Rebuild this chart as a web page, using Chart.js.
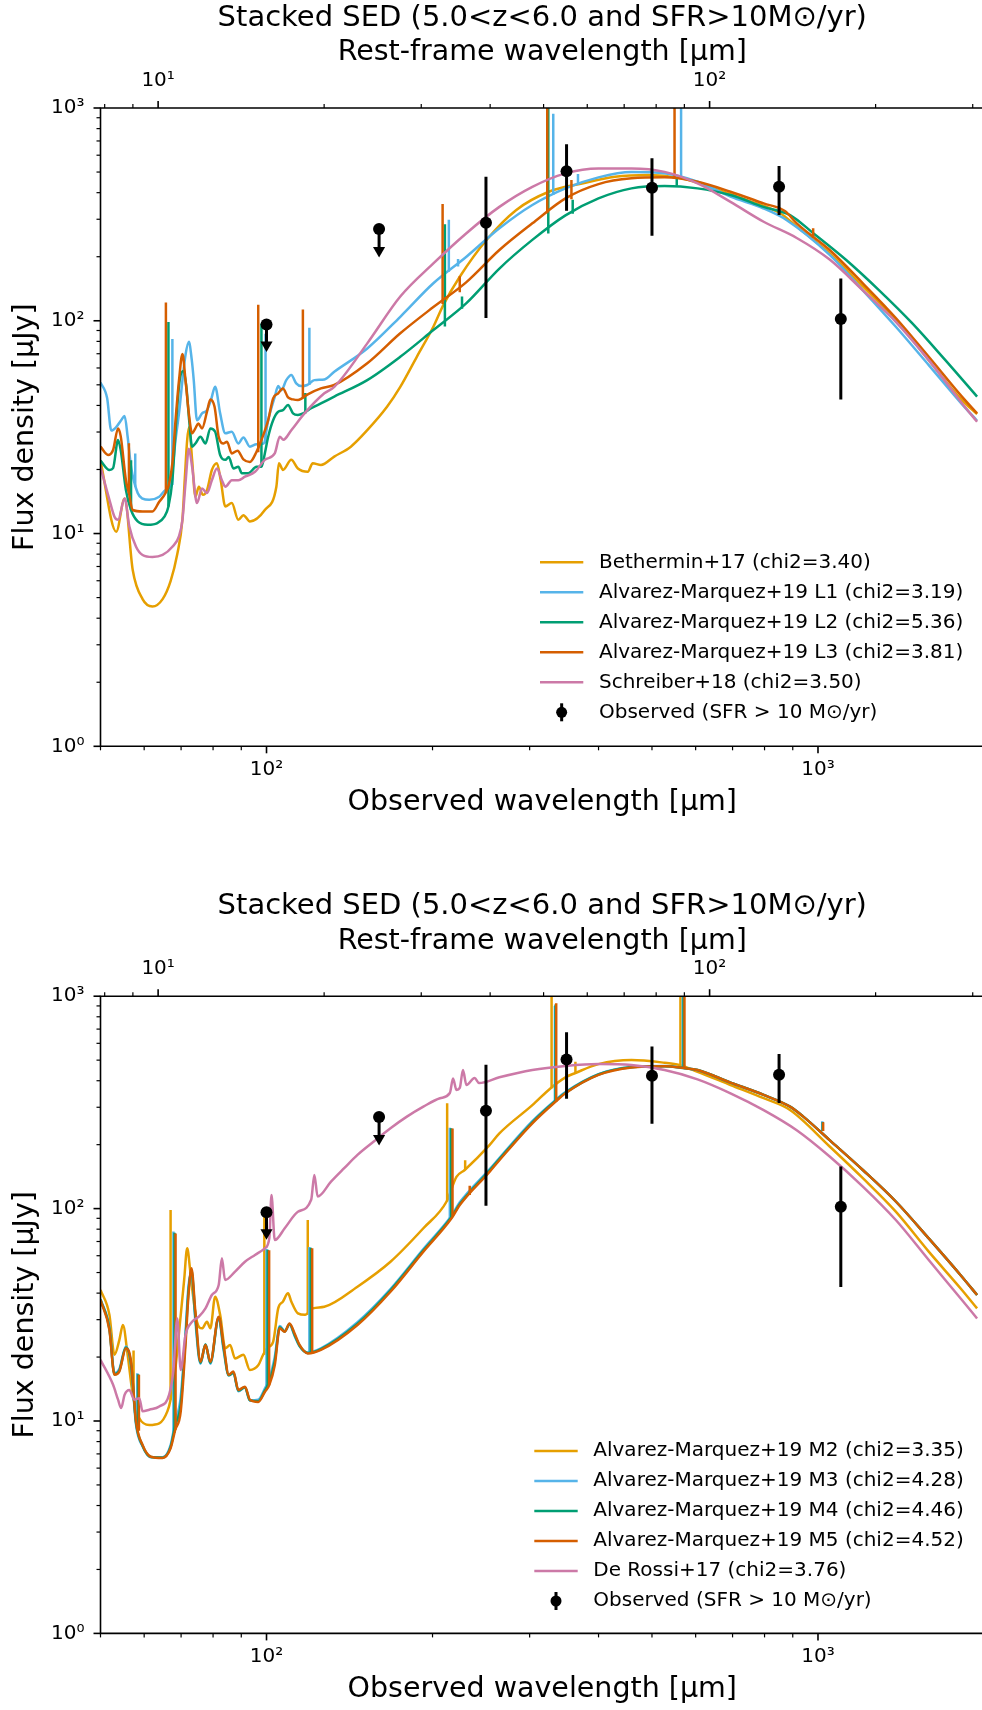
<!DOCTYPE html>
<html>
<head>
<meta charset="utf-8">
<script src="https://cdn.jsdelivr.net/npm/chart.js@4.4.0/dist/chart.umd.min.js"></script>
<style>
  html, body { margin: 0; padding: 0; background: #fff; overflow: hidden; }
  canvas { display: block; }
</style>
</head>
<body>
<canvas id="sedTop" width="991" height="855"></canvas>
<canvas id="sedBottom" width="991" height="855"></canvas>
<script>
// observed stack (micron, micro-Jy)
const obsWave = [250, 350, 500, 850, 1100];
const obsFlux = [289, 504, 422, 427, 102];
const obsLo = [103, 329, 251, 314, 42.7];
const obsHi = [475, 676, 580, 534, 158];
const ulWave = [100, 160];
const ulFlux = [96, 270];
const ulArrow = [77, 214];

// axes run a little past the right edge of the picture
const xMin = 50, xMax = 2000;
const onePlusZ = 6.36;

const modelColors = ["#E69F00", "#56B4E9", "#009E73", "#D55E00", "#CC79A7"];
const topLabels = [
  "Bethermin+17 (chi2=3.40)",
  "Alvarez-Marquez+19 L1 (chi2=3.19)",
  "Alvarez-Marquez+19 L2 (chi2=5.36)",
  "Alvarez-Marquez+19 L3 (chi2=3.81)",
  "Schreiber+18 (chi2=3.50)",
];
const bottomLabels = [
  "Alvarez-Marquez+19 M2 (chi2=3.35)",
  "Alvarez-Marquez+19 M3 (chi2=4.28)",
  "Alvarez-Marquez+19 M4 (chi2=4.46)",
  "Alvarez-Marquez+19 M5 (chi2=4.52)",
  "De Rossi+17 (chi2=3.76)",
];
const obsLabel = "Observed (SFR > 10 M\u2299/yr)";
const titleText = "Stacked SED (5.0<z<6.0 and SFR>10M\u2299/yr)";

// ---- top panel templates ----
const wlBet = [50.0,53.4,55.3,57.2,59.6,62.1,64.8,67.0,68.9,70.4,71.1,71.8,72.4,73.3,74.3,75.4,76.7,78.0,79.6,81.3,82.6,84.2,86.5,88.9,90.8,93.3,99.3,104.2,105.3,107.1,110.9,114.0,118.8,121.3,125.5,132.7,142.2,152.3,165.4,174.8,187.3,200.7,209.2,224.1,250.3,283.4,325.1,373.3,428.5,491.8,564.6,648.1,743.9,854,915,1050,1206,1384,1588,1824,1943];
const fluxBet = [22.0,10.2,14.6,6.74,4.92,4.54,4.92,5.98,8.01,11.7,18.2,27.5,31.7,22.2,14.9,16.6,15.2,16.0,19.9,21.4,17.8,13.4,13.9,11.6,12.2,11.4,12.9,16.6,21.4,19.9,22.2,20.2,19.5,21.4,21.0,23.0,25.6,30.6,39.4,48.9,67.7,93.7,118.5,161,239,331,404,442,475,484,467,419,369,320,277,207,145,101,65.3,42.4,36.4];

const wlL1 = [50.0,51.4,52.3,53.3,54.5,55.3,56.0,56.8,58.4,59.6,61.3,63.9,65.6,66.9,68.4,69.5,70.4,71.3,72.3,73.2,73.8,74.8,76.4,78.0,79.3,80.7,82.4,84.2,86.5,88.9,90.8,93.3,95.9,98.8,100.7,103.5,105.0,106.4,108.6,110.9,113.2,115.6,118.5,122.1,127.3,132.7,152.3,174.8,200.7,230.4,264.4,303.4,348.4,399.9,459,527,604.8,694,797,877.9,1050,1206,1384,1588,1824,1943];
const fluxL1 = [51.3,43.3,30.5,31.5,34.1,35.7,28.5,20.6,15.5,14.6,14.4,14.9,16.0,16.7,27.5,38.0,52.6,69.0,79.7,65.3,52.6,34.1,36.7,38.0,42.4,48.9,36.7,29.6,30.1,26.5,28.3,25.6,26.3,26.5,34.1,43.9,49.3,47.2,52.6,55.6,50.8,49.3,49.9,52.6,53.0,57.6,74.1,104.4,150,200,272,350,419,472,500,493,450,383,337,297,204,139,93.7,61.9,40.6,33.9];
const linesL1 = [[57.8,16.6,23.8],[67.5,16.9,82],[99.6,26.5,87],[119.6,49.9,92.7],[214.1,170,298],[222.5,180,195],[331.1,390,940],[367.1,435,490],[564.6,467,1000]];

const wlL2 = [50.0,51.9,52.7,53.8,54.4,55.6,56.8,58.4,60.9,63.4,65.3,66.4,67.5,68.6,69.6,70.6,71.5,72.4,73.3,74.3,75.9,77.5,79.1,80.7,82.4,84.2,85.4,87.1,88.9,90.2,92.7,95.9,97.9,99.3,100.7,102.8,105.0,107.1,109.4,111.7,114.0,116.5,120.5,125.5,132.7,152.3,174.8,200.7,230.4,264.4,303.4,348.4,399.9,459,527,604.8,694,797,889.9,980.4,1125,1291,1483,1702,1943];
const fluxL2 = [22.0,19.9,20.3,27.5,24.7,16.0,12.9,11.4,11.0,11.2,12.0,13.4,17.8,34.1,52.6,58.0,49.9,34.1,25.6,26.5,28.5,26.5,31.2,30.1,23.4,22.2,22.9,20.2,20.6,19.2,19.2,20.6,20.6,23.8,28.5,34.1,37.4,38.0,40.2,36.7,36.1,36.7,38.8,40.9,44.0,52.6,67.7,90.4,121,176,240,313,376,419,430,419,390,343,314,258,193,139,97.2,65.3,44.0];
const linesL2 = [[56.8,12.9,22.1],[66.4,13.4,98.6],[97.9,20.6,97],[117.6,36.7,45.8],[210.6,94,284],[226.2,114,130],[324.3,257,1000],[359.1,318,370],[554.5,431,470]];

const wlL3 = [50.0,51.6,52.7,53.8,54.4,55.6,56.3,57.2,59.6,62.1,63.9,65.6,66.6,67.5,68.4,69.4,70.4,71.3,72.3,73.3,74.3,75.2,76.4,78.0,79.1,80.5,81.9,83.6,84.8,86.5,88.6,90.8,93.3,95.9,97.9,100.7,102.8,105.0,107.1,109.4,111.7,114.0,115.9,118.8,125.5,132.7,152.3,174.8,200.7,230.4,264.4,303.4,348.4,399.9,459,527,604.8,694,797,870.9,915,1050,1206,1384,1588,1824,1943];
const fluxL3 = [25.6,23.4,24.7,31.2,28.7,17.8,15.5,12.9,12.7,12.7,14.1,15.5,17.2,21.4,34.1,52.6,69.8,52.6,36.7,29.6,31.2,32.9,31.2,37.4,42.7,39.4,28.5,26.5,27.0,23.8,24.5,22.3,21.7,24.2,27.5,34.1,43.2,45.6,48.1,43.6,42.7,42.4,43.2,45.1,48.1,49.9,63.1,87.3,116,152,215,287,376,439,467,472,450,404,356,328,287,215,150,103,67.7,44.0,36.7];
const linesL3 = [[56.3,15.5,26.6],[65.7,15.5,122],[96.6,24.1,119],[116.4,43.1,113],[208.6,120,354],[224.1,136,162],[322.9,320,1000],[357.2,372,459],[549.4,470,1000],[980,245,272]];

const wlS18 = [50.0,51.9,53.0,53.8,55.3,56.4,58.0,59.6,62.1,64.8,67.5,69.4,70.4,71.3,72.3,73.3,74.8,76.4,78.0,79.6,81.3,83.0,84.2,86.5,88.9,91.4,95.3,99.3,103.5,105.7,107.3,110.9,117.2,127.3,132.7,152.3,174.8,200.7,230.4,264.4,303.4,348.4,399.9,459,527,604.8,694,797,915,1050,1206,1384,1588,1824,1943];
const fluxS18 = [20.5,14.4,12.0,11.6,14.6,10.8,8.67,7.93,7.76,7.93,8.67,9.73,11.6,17.2,25.0,20.6,13.9,16.3,15.5,17.8,20.2,17.8,16.6,17.8,17.8,18.5,19.5,22.2,23.8,28.5,27.6,30.6,36.7,45.6,48.9,78.3,130,186,258,343,426,493,520,520,501,442,362,292,245,194,139,98.9,65.3,41.0,33.5];

// ---- bottom panel templates ----
const wlM2 = [50.0,51.9,53.0,54.1,54.9,56.0,57.2,58.0,58.8,61.3,63.9,66.1,67.0,68.3,69.9,70.9,71.8,72.7,73.3,74.8,76.4,78.0,79.1,80.7,82.4,84.2,85.9,87.7,90.8,93.3,96.6,98.6,100.4,102.8,105.0,107.1,109.4,110.9,114.0,117.5,121.3,127.3,146.2,167.8,192.5,212.1,221.0,228.8,253.7,264.4,303.4,327.5,348.4,363.2,399.9,459,527,560.7,604.8,694,797,889.9,1050,1206,1384,1588,1824,1943];
const fluxM2 = [41.4,31.6,20.5,24.1,28.3,20.5,13.3,11.5,10.3,9.58,9.75,11.1,12.6,17.4,31.6,46.1,65.0,51.4,42.2,29.3,27.3,29.3,27.3,38.5,31.6,22.0,22.8,19.7,20.5,17.4,18.3,20.5,22.1,23.6,33.9,36.5,39.9,36.5,32.1,31.6,33.9,34.5,42.9,56.2,80.8,108,141,152,199,226,307,369,415,435,479,501,486,474,441,382,331,291,196,139,96.7,62.7,41.4,33.9];
const linesM2 = [[57.4,13.0,21.5],[67.0,12.6,98.5],[99.1,20.5,93.3],[118.8,31.6,88.4],[212.6,108,313],[229.2,152,169],[328.8,369,1000],[363.2,433,491],[563.1,474,1000]];

const wlM345 = [50.0,51.9,53.0,54.1,55.6,56.8,58.0,59.6,61.7,64.8,67.0,68.3,69.9,71.3,72.2,73.1,74.3,75.9,77.5,79.1,81.9,83.6,85.4,87.1,88.9,91.4,93.3,96.6,99.3,101.2,103.5,105.7,107.9,110.1,112.4,114.8,118.8,125.5,146.2,167.8,192.5,216.5,224.1,253.7,264.4,303.4,334.4,348.4,399.9,459,527,570.9,604.8,694,797,889.9,940.6,1050,1206,1384,1588,1824,1943];
const fluxM3 = [37.5,27.5,16.8,17.6,22.4,18.2,9.6,7.6,6.75,6.75,7.7,9.9,13.0,26.0,43.0,50.0,29.5,18.6,23.0,18.6,30.5,21.5,16.4,16.8,13.8,14.4,12.5,12.6,14.2,15.8,20.0,28.0,26.5,28.5,25.2,22.5,21.0,22.0,29.2,41.8,64.5,92.5,107,153,173,258,325,354,430,464,469,459,449,392,343,302,271,210,152,108,72.4,47.8,39.2];
const fluxM4 = [37.3,27.1,16.6,17.3,22.2,18.6,9.8,7.65,6.77,6.72,7.55,9.5,12.0,24.4,41.0,51.2,31.0,18.8,22.9,18.8,30.8,22.1,16.4,16.9,13.9,14.4,12.5,12.4,13.9,15.3,19.1,27.6,26.4,28.6,25.5,22.6,20.9,21.8,28.7,41.2,63.6,91.2,105,151,171,255,322,351,428,463,468,459,449,392,343,302,271,210,152,108,72.4,47.8,39.2];
const fluxM5 = [37.1,26.8,16.5,17.1,22.0,19.0,9.93,7.71,6.79,6.70,7.44,9.07,11.1,22.8,39.2,52.4,32.7,19.0,22.8,19.0,31.0,22.8,16.5,17.1,14.0,14.5,12.6,12.3,13.7,14.8,18.3,27.3,26.3,28.8,25.9,22.8,20.8,21.6,28.3,40.6,62.7,90.0,104,149,169,252,319,349,426,462,468,459,449,392,343,302,271,210,152,108,72.4,47.8,39.2];
const linesM3 = [[58.3,9.6,16.8],[67.8,8.6,78],[100.0,14.3,64.5],[119.6,21.0,66],[215.0,89,240],[333.4,316,900],[568.5,460,1000],[1018,232,258]];
const linesM4 = [[58.5,9.3,16.6],[68.1,8.8,77],[100.5,14.5,64],[120.3,21.0,65.5],[216.2,90,239],[334.3,318,915],[570.5,460,1000],[1020,232,256]];
const linesM5 = [[58.7,9.0,16.5],[68.4,9.1,76.3],[101.1,14.8,63.6],[121.0,21.0,65],[217.4,92,238],[233.6,116,128],[335.2,319,927],[572.6,459,1000],[1021.7,232,255]];

const wlDR17 = [50.0,52.7,53.8,54.5,55.3,56.4,57.6,58.8,59.6,61.3,63.9,66.6,67.8,68.9,69.9,71.3,73.3,75.4,77.5,79.6,81.9,83.0,84.1,87.7,91.4,95.3,99.3,101.2,102.1,103.5,107.9,114.0,120.5,122.1,123.8,130.9,138.3,146.2,156.5,167.8,179.7,192.5,206.3,215.0,217.9,221.0,224.1,227.1,230.4,238.4,243,264.4,303.4,348.4,399.9,459,527,604.8,694,797,915,1050,1206,1384,1588,1824,1943];
const fluxDR17 = [19.4,14.8,12.6,11.5,13.3,14.0,12.6,12.8,11.1,11.3,11.7,13.3,17.4,30.4,17.4,25.4,29.3,31.0,33.9,39.2,43.7,58.3,46.1,50.5,56.2,60.5,65.0,72.7,116,71.1,80.8,96.6,110,144,114,134,155,179,207,239,271,302,331,350,410,362,370,449,382,412,390,415,449,469,479,474,449,406,349,291,234,176,127,88.4,57.3,37.1,30.4];

const FONT = "DejaVu Sans";
Chart.defaults.font.family = FONT;
Chart.defaults.color = "#000";

const supDigits = ["\u2070", "\u00B9", "\u00B2", "\u00B3", "\u2074"];
const decadeLabel = (v) => "10" + supDigits[Math.round(Math.log10(v))];

const toPoints = (wl, flux) => wl.map((w, i) => ({ x: w, y: flux[i] }));
const toSpikes = (lines) =>
  lines.flatMap(([w, lo, hi]) => [{ x: w, y: lo }, { x: w, y: hi }, { x: w, y: null }]);

// minor + major positions of a log axis
const logSteps = (min, max) => {
  const out = [];
  for (let e = Math.floor(Math.log10(min)); e <= Math.ceil(Math.log10(max)); e++) {
    for (let m = 1; m < 10; m++) {
      const v = m * Math.pow(10, e);
      if (v >= min * 0.999 && v <= max * 1.001) out.push({ v, major: m === 1 });
    }
  }
  return out;
};

const axesPlugin = {
  id: "sedAxes",
  afterDraw(chart) {
    const { ctx, chartArea: a } = chart;
    const { x, x2, y } = chart.scales;
    ctx.save();
    ctx.strokeStyle = "#000";
    const tick = (x0, y0, x1, y1, major) => {
      ctx.lineWidth = major ? 1.6 : 1.2;
      ctx.beginPath();
      ctx.moveTo(x0, y0);
      ctx.lineTo(x1, y1);
      ctx.stroke();
    };
    logSteps(x.min, x.max).forEach((t) => {
      const p = x.getPixelForValue(t.v);
      tick(p, a.bottom, p, a.bottom + (t.major ? 7 : 4), t.major);
    });
    logSteps(x2.min, x2.max).forEach((t) => {
      const p = x2.getPixelForValue(t.v);
      tick(p, a.top, p, a.top - (t.major ? 7 : 4), t.major);
    });
    logSteps(y.min, y.max).forEach((t) => {
      const p = y.getPixelForValue(t.v);
      tick(a.left, p, a.left - (t.major ? 7 : 4), p, t.major);
    });
    ctx.lineWidth = 1.6;
    ctx.beginPath();
    ctx.moveTo(a.right, a.top);
    ctx.lineTo(a.left, a.top);
    ctx.lineTo(a.left, a.bottom);
    ctx.lineTo(a.right, a.bottom);
    ctx.stroke();
    ctx.restore();
  },
};

const legendPlugin = {
  id: "sedLegend",
  afterDraw(chart, args, opts) {
    const ctx = chart.ctx;
    ctx.save();
    ctx.font = "20px '" + FONT + "'";
    ctx.textBaseline = "middle";
    ctx.fillStyle = "#000";
    opts.labels.forEach((txt, i) => {
      const yy = opts.top + i * opts.step;
      ctx.strokeStyle = modelColors[i];
      ctx.lineWidth = 2.5;
      ctx.beginPath();
      ctx.moveTo(opts.handleX, yy);
      ctx.lineTo(opts.handleX + opts.handleW, yy);
      ctx.stroke();
      ctx.fillText(txt, opts.textX, yy);
    });
    const yo = opts.top + opts.labels.length * opts.step;
    const xm = opts.handleX + opts.handleW / 2;
    ctx.strokeStyle = "#000";
    ctx.lineWidth = 3;
    ctx.beginPath();
    ctx.moveTo(xm, yo - 9);
    ctx.lineTo(xm, yo + 9);
    ctx.stroke();
    ctx.beginPath();
    ctx.arc(xm, yo, 5.5, 0, Math.PI * 2);
    ctx.fill();
    ctx.fillText(obsLabel, opts.textX, yo);
    ctx.restore();
  },
};

const buildPanel = (canvasId, models, layout) => {
  const datasets = [];
  models.forEach((m, i) => {
    datasets.push({
      data: toPoints(m.wl, m.flux),
      borderColor: modelColors[i],
      borderWidth: 2.5,
      pointRadius: 0,
      cubicInterpolationMode: "monotone",
      borderJoinStyle: "round",
      order: 10 - i,
    });
    if (m.lines.length) {
      datasets.push({
        data: toSpikes(m.lines),
        borderColor: modelColors[i],
        borderWidth: 2.5,
        pointRadius: 0,
        tension: 0,
        spanGaps: false,
        order: 10 - i,
      });
    }
  });
  // error bars and upper-limit stems
  datasets.push({
    data: toSpikes(obsWave.map((w, i) => [w, obsLo[i], obsHi[i]])),
    borderColor: "#000",
    borderWidth: 3,
    pointRadius: 0,
    spanGaps: false,
    order: 1,
  });
  datasets.push({
    data: toSpikes(ulWave.map((w, i) => [w, ulArrow[i], ulFlux[i]])),
    borderColor: "#000",
    borderWidth: 3,
    pointRadius: 0,
    spanGaps: false,
    order: 1,
  });
  datasets.push({
    data: toPoints(ulWave, ulArrow),
    showLine: false,
    pointStyle: "triangle",
    rotation: 180,
    pointRadius: 7,
    pointBackgroundColor: "#000",
    pointBorderColor: "#000",
    pointBorderWidth: 0,
    order: 0,
  });
  datasets.push({
    data: toPoints(obsWave.concat(ulWave), obsFlux.concat(ulFlux)),
    showLine: false,
    pointRadius: 6,
    pointBackgroundColor: "#000",
    pointBorderColor: "#000",
    pointBorderWidth: 0,
    order: 0,
  });

  const axisTitleFont = { family: FONT, size: 28.5 };
  const tickFont = { family: FONT, size: 20 };

  return new Chart(document.getElementById(canvasId).getContext("2d"), {
    type: "line",
    data: { datasets },
    plugins: [axesPlugin, legendPlugin],
    options: {
      responsive: false,
      animation: false,
      devicePixelRatio: 1,
      layout: { padding: 0 },
      events: [],
      plugins: {
        legend: { display: false },
        tooltip: { enabled: false },
        title: {
          display: true,
          text: titleText,
          color: "#000",
          fullSize: false,
          font: { family: FONT, size: 29, weight: "normal" },
          padding: { top: layout.titlePad, bottom: 0 },
        },
        sedLegend: layout.legend,
      },
      scales: {
        x: {
          type: "logarithmic",
          position: "bottom",
          min: xMin,
          max: xMax,
          grid: { display: false, drawTicks: false },
          border: { display: false },
          afterBuildTicks: (s) => { s.ticks = [100, 1000].map((v) => ({ value: v })); },
          afterFit: (s) => { s.height = layout.bottomH; },
          ticks: { callback: (v) => decadeLabel(v), font: tickFont, padding: 11, maxRotation: 0, autoSkip: false },
          title: { display: true, text: "Observed wavelength [\u03BCm]", font: axisTitleFont, padding: { top: 0, bottom: layout.xTitlePad } },
        },
        x2: {
          type: "logarithmic",
          position: "top",
          min: xMin / onePlusZ,
          max: xMax / onePlusZ,
          grid: { display: false, drawTicks: false },
          border: { display: false },
          afterBuildTicks: (s) => { s.ticks = [10, 100].map((v) => ({ value: v })); },
          afterFit: (s) => { s.height = layout.topH; },
          ticks: { callback: (v) => decadeLabel(v), font: tickFont, padding: 15, maxRotation: 0, autoSkip: false },
          title: { display: true, text: "Rest-frame wavelength [\u03BCm]", font: axisTitleFont, padding: { top: 0, bottom: 0 } },
        },
        y: {
          type: "logarithmic",
          position: "left",
          min: 1,
          max: 1000,
          grid: { display: false, drawTicks: false },
          border: { display: false },
          afterBuildTicks: (s) => { s.ticks = [1, 10, 100, 1000].map((v) => ({ value: v })); },
          afterFit: (s) => { s.width = 100.5; },
          ticks: { callback: (v) => decadeLabel(v), font: tickFont, padding: 16, autoSkip: false },
          title: { display: true, text: "Flux density [\u03BCJy]", font: axisTitleFont, padding: { top: 8, bottom: 0 } },
        },
      },
    },
  });
};

buildPanel("sedTop", [
  { wl: wlBet, flux: fluxBet, lines: [] },
  { wl: wlL1, flux: fluxL1, lines: linesL1 },
  { wl: wlL2, flux: fluxL2, lines: linesL2 },
  { wl: wlL3, flux: fluxL3, lines: linesL3 },
  { wl: wlS18, flux: fluxS18, lines: [] },
], {
  titlePad: 1.1, topH: 72.1, bottomH: 108.7, xTitlePad: 34.9,
  legend: { labels: topLabels, top: 562.3, step: 30, handleX: 540, handleW: 43.3, textX: 599 },
});

buildPanel("sedBottom", [
  { wl: wlM2, flux: fluxM2, lines: linesM2 },
  { wl: wlM345, flux: fluxM3, lines: linesM3 },
  { wl: wlM345, flux: fluxM4, lines: linesM4 },
  { wl: wlM345, flux: fluxM5, lines: linesM5 },
  { wl: wlDR17, flux: fluxDR17, lines: [] },
], {
  titlePad: 34.3, topH: 72.1, bottomH: 76.6, xTitlePad: 2.9,
  legend: { labels: bottomLabels, top: 596, step: 30, handleX: 534.3, handleW: 43.4, textX: 593.3 },
});
</script>
</body>
</html>
